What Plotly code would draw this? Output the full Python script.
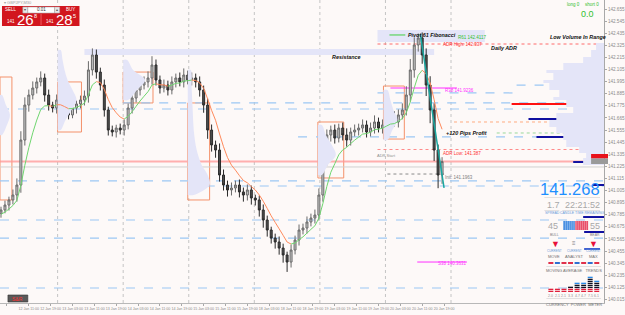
import plotly.graph_objects as go

# ---------------- data ----------------
closes = [140.828, 140.873, 140.919, 140.964, 141.055, 141.464, 141.782, 141.873, 141.937, 141.992,
          142.028, 141.873, 141.782, 141.755, 141.828, 141.782, 141.719, 141.692, 141.755, 141.792,
          141.828, 141.864, 142.101, 142.237, 142.082, 141.964, 141.737, 141.555, 141.537, 141.573,
          141.555, 141.601, 141.755, 141.846, 141.919, 141.964, 141.992, 142.028, 142.146, 142.010,
          141.937, 141.964, 141.919, 141.992, 142.028, 141.992, 142.055, 142.010, 142.028, 141.992,
          141.919, 141.782, 141.555, 141.419, 141.373, 141.146, 141.055, 141.010, 141.028, 141.055,
          140.992, 140.964, 141.010, 140.937, 140.919, 140.828, 140.737, 140.646, 140.573, 140.537,
          140.482, 140.419, 140.355, 140.464, 140.555, 140.646, 140.664, 140.719, 140.755, 140.782,
          140.964, 141.282, 141.510, 141.555, 141.482, 141.573, 141.510, 141.464, 141.537, 141.555,
          141.573, 141.601, 141.537, 141.573, 141.628, 141.573, 141.601, 141.646, 141.664, 141.628,
          141.692, 141.737, 141.873, 142.101, 142.328, 142.392, 142.237, 141.964, 141.737, 141.373,
          141.146, 141.268]
wick_up = [0.03, 0.04, 0.03, 0.05, 0.06, 0.08, 0.07, 0.05, 0.06, 0.04,
           0.06, 0.04, 0.05, 0.03, 0.05, 0.04, 0.03, 0.04, 0.05, 0.03,
           0.04, 0.05, 0.08, 0.06, 0.05, 0.04, 0.05, 0.03, 0.04, 0.03,
           0.04, 0.05, 0.04, 0.06, 0.05, 0.04, 0.05, 0.06, 0.08, 0.05,
           0.04, 0.05, 0.04, 0.05, 0.04, 0.05, 0.06, 0.04, 0.05, 0.04,
           0.05, 0.04, 0.06, 0.05, 0.04, 0.06, 0.05, 0.04, 0.05, 0.04,
           0.05, 0.04, 0.05, 0.04, 0.03, 0.04, 0.05, 0.04, 0.03, 0.04,
           0.05, 0.04, 0.03, 0.05, 0.04, 0.05, 0.04, 0.05, 0.04, 0.05,
           0.06, 0.08, 0.05, 0.04, 0.05, 0.04, 0.05, 0.06, 0.04, 0.05,
           0.04, 0.05, 0.04, 0.05, 0.06, 0.04, 0.05, 0.04, 0.05, 0.06,
           0.05, 0.06, 0.08, 0.10, 0.07, 0.04, 0.05, 0.06, 0.08, 0.06,
           0.05, 0.04]
wick_dn = [0.04, 0.03, 0.05, 0.04, 0.06, 0.07, 0.05, 0.06, 0.04, 0.05,
           0.04, 0.06, 0.05, 0.04, 0.05, 0.06, 0.05, 0.04, 0.03, 0.05,
           0.04, 0.05, 0.06, 0.05, 0.06, 0.05, 0.06, 0.05, 0.04, 0.05,
           0.04, 0.05, 0.04, 0.05, 0.04, 0.05, 0.04, 0.05, 0.06, 0.05,
           0.05, 0.04, 0.05, 0.04, 0.05, 0.04, 0.05, 0.04, 0.05, 0.05,
           0.06, 0.07, 0.08, 0.06, 0.07, 0.06, 0.05, 0.06, 0.05, 0.04,
           0.05, 0.06, 0.05, 0.06, 0.05, 0.06, 0.07, 0.06, 0.05, 0.06,
           0.06, 0.07, 0.09, 0.05, 0.04, 0.05, 0.04, 0.05, 0.04, 0.05,
           0.05, 0.06, 0.05, 0.06, 0.05, 0.04, 0.05, 0.06, 0.05, 0.04,
           0.05, 0.04, 0.05, 0.04, 0.05, 0.04, 0.05, 0.04, 0.05, 0.04,
           0.05, 0.04, 0.05, 0.06, 0.07, 0.06, 0.08, 0.10, 0.12, 0.10,
           0.12, 0.08]
time_labels = ["11 Jan 2021", "12 Jan 11:00", "12 Jan 19:00", "13 Jan 03:00", "13 Jan 11:00",
               "13 Jan 19:00", "14 Jan 03:00", "14 Jan 11:00", "14 Jan 19:00", "15 Jan 03:00",
               "15 Jan 11:00", "15 Jan 19:00", "18 Jan 03:00", "18 Jan 11:00", "18 Jan 19:00",
               "19 Jan 03:00", "19 Jan 11:00", "19 Jan 19:00", "20 Jan 03:00", "20 Jan 11:00",
               "20 Jan 19:00"]

blue_dashed_levels = [141.964, 141.892, 141.801, 141.746, 141.492, 141.092, 141.046, 140.737, 140.573, 140.119]
dark_blue_levels = [141.655, 141.492, 141.264, 141.055, 140.764, 140.628]
red_level = 141.792
adr_high = 142.337
adr_low = 141.378
fib_r61 = 142.419
fib_r38 = 141.937
fib_s38 = 140.355
init_level = 141.155
peach_level = 141.628
green_dot_level = 141.528
bid = 141.268
gray_level = 141.219
trend_line = [142.43, 141.03]
resistance_band = [142.292, 142.237]
pivot_band = [142.464, 142.355]

profile_right_levels = [142.346, 142.282, 142.219, 142.164, 142.101, 142.073, 142.010, 141.982, 141.919,
                        141.855, 141.828, 141.764, 141.710, 141.646, 141.582, 141.528, 141.464, 141.401,
                        141.346, 141.301, 141.237, 141.164]
profile_right_volume = [0, 8, 13, 21, 41, 58, 51, 61, 55, 45, 51, 38, 31, 48, 55, 48, 41, 38, 25, 18, 21, 0]

left_profile_levels = [
    [141.873, 141.782, 141.692, 141.601, 141.510],
    [142.282, 142.192, 142.101, 142.010, 141.919, 141.828, 141.737, 141.646, 141.555],
    [142.192, 142.101, 142.010, 141.919, 141.828],
    [142.101, 141.919, 141.737, 141.555, 141.373, 141.237, 141.146, 141.055, 140.964],
    [141.601, 141.510, 141.419, 141.328, 141.237, 141.146],
    [141.919, 141.828, 141.737, 141.646, 141.555, 141.464],
]
left_profile_volume = [
    [2, 6, 10, 7, 2],
    [3, 5, 7, 10, 15, 19, 14, 8, 3],
    [4, 10, 22, 14, 5],
    [3, 4, 5, 6, 9, 14, 20, 22, 6],
    [4, 8, 14, 18, 10, 4],
    [4, 7, 10, 14, 9, 4],
]
session_box_prices = [(142.037, 140.919), (141.992, 141.537), (142.082, 141.801),
                      (141.801, 140.919), (141.628, 141.119), (141.955, 141.473)]
meter_values = [2.0, 2.1, 2.1, 3.3, 4.7, 4.7, 7.5, 6.1]
ma_trend_colors = ["#e0304a", "#3070d0", "#e0304a", "#e0304a", "#3070d0", "#e0304a", "#3070d0", "#e0304a"]

# ---------------- layout geometry ----------------
W, H = 625, 315
PW, PH = 608, 303
PX_PER_UNIT = 4.0
PX_PER_YEN = 110.0
y_top = 142.737
y_bot = y_top - PH / PX_PER_YEN
x_lo = -0.25
x_hi = x_lo + PW / PX_PER_UNIT


def U(px):
    return x_lo + px / PX_PER_UNIT


def P(px, py):
    return px / PW, 1 - py / PH


assert len(closes) == len(wick_up) == len(wick_dn)
n = len(closes)
idx = list(range(n))
opens = [closes[0] - 0.03] + closes[:-1]
highs = [max(o, c) + u for o, c, u in zip(opens, closes, wick_up)]
lows = [min(o, c) - d for o, c, d in zip(opens, closes, wick_dn)]

# EMA indicator
alpha = 2 / (7 + 1)
ema = [closes[0] - 0.04]
for c in closes[1:]:
    ema.append(ema[-1] + alpha * (c - ema[-1]))
gx, gy, ox, oy = [], [], [], []
for i in range(1, n):
    if ema[i] >= ema[i - 1]:
        gx += [i - 1, i, None]; gy += [ema[i - 1], ema[i], None]
    else:
        ox += [i - 1, i, None]; oy += [ema[i - 1], ema[i], None]

FONT = "Liberation Sans, Arial, sans-serif"
LAV = "#e4e5f8"

fig = go.Figure()

# volume profiles (left, inside sessions)
left_bases_px = [0, 58, 124, 189, 320, 386]
for base_px, lv, vol in zip(left_bases_px, left_profile_levels, left_profile_volume):
    b = U(base_px)
    xs = [b] + [b + v / PX_PER_UNIT for v in vol] + [b]
    ys = [lv[0]] + lv + [lv[-1]]
    fig.add_trace(go.Scatter(x=xs, y=ys, fill="toself", fillcolor=LAV, mode="lines",
                             line=dict(width=0, color=LAV, shape="spline"), hoverinfo="skip", showlegend=False))

# right volume profile
fig.add_trace(go.Scatter(x=profile_right_volume, y=profile_right_levels, xaxis="x2", fill="tozerox",
                         fillcolor=LAV, mode="lines", line=dict(width=0, color=LAV, shape="hv"),
                         hoverinfo="skip", showlegend=False))

# candles
fig.add_trace(go.Candlestick(x=idx, open=opens, high=highs, low=lows, close=closes,
                             increasing=dict(line=dict(color="#6a6a6a", width=1), fillcolor="#c8c8c8"),
                             decreasing=dict(line=dict(color="#2a2a2a", width=1), fillcolor="#505050"),
                             whiskerwidth=0, showlegend=False, hoverinfo="skip"))

# moving average colored by slope
fig.add_trace(go.Scatter(x=gx, y=gy, mode="lines", line=dict(color="#6fd66f", width=1), showlegend=False, hoverinfo="skip"))
fig.add_trace(go.Scatter(x=ox, y=oy, mode="lines", line=dict(color="#ff8a5c", width=1), showlegend=False, hoverinfo="skip"))

# trend line after the peak
peak_i = max(range(n), key=lambda i: highs[i])
fig.add_trace(go.Scatter(x=[peak_i - 0.5, n - 0.5], y=trend_line, mode="lines",
                         line=dict(color="#1aa7a0", width=1.5), showlegend=False, hoverinfo="skip"))

shapes = []


def hline(price, px0, px1, color, width=1, dash="solid", layer="below"):
    shapes.append(dict(type="line", xref="x", yref="y", x0=U(px0), x1=U(px1), y0=price, y1=price,
                       line=dict(color=color, width=width, dash=dash), layer=layer))


def rect_px(x0, y0, x1, y1, fill, line=None, lw=0.6):
    a0, b0 = P(x0, y0)
    a1, b1 = P(x1, y1)
    shapes.append(dict(type="rect", xref="paper", yref="paper", x0=a0, x1=a1, y0=b1, y1=b0,
                       fillcolor=fill, line=dict(color=line or fill, width=lw if line else 0), layer="above"))


# bands
shapes.append(dict(type="rect", xref="x", yref="y", x0=U(85), x1=U(437), y0=resistance_band[1], y1=resistance_band[0],
                   fillcolor=LAV, line=dict(width=0), layer="below"))
shapes.append(dict(type="rect", xref="x", yref="y", x0=U(380), x1=U(488), y0=pivot_band[1], y1=pivot_band[0],
                   fillcolor=LAV, line=dict(width=0), layer="below"))

# day separators
for k in range(7):
    xs = U(58 + 66 * k)
    shapes.append(dict(type="line", xref="x", yref="paper", x0=xs, x1=xs, y0=0, y1=1,
                       line=dict(color="#c4c4c4", width=1, dash="dot"), layer="below"))

# session boxes
box_px = [(0, 12), (58, 82), (124, 154), (189, 211), (320, 346), (386, 407)]
for (a, b), (ptop, pbot) in zip(box_px, session_box_prices):
    shapes.append(dict(type="rect", xref="x", yref="y", x0=U(a), x1=U(b), y0=pbot, y1=ptop,
                       line=dict(color="#f4916a", width=1), fillcolor="rgba(0,0,0,0)", layer="below"))

# levels
bd_start = [520, 380, 124, 0, 300, 0, 189, 0, 0, 0]
bd_end = [608, 520, 608, 608, 608, 608, 608, 608, 608, 608]
for p, a, b in zip(blue_dashed_levels, bd_start, bd_end):
    hline(p, a, b, "#9cc8f4", 1.2, "dash")
hline(bid, 0, 608, "rgba(255,150,150,0.75)", 2)
hline(gray_level, 0, 608, "#d0d0d0", 1)
for p, a in zip(dark_blue_levels, [532, 540, 577, 597, 587, 588]):
    hline(p, a, 608, "#1010a0", 2)
hline(red_level, 515, 608, "#ff1010", 2)
hline(adr_high, 380, 608, "#ff6a6a", 1, "dot")
hline(adr_low, 380, 608, "#ff8a8a", 1, "dot")
hline(peach_level, 457, 608, "#ffab80", 1, "dot")
hline(green_dot_level, 500, 608, "#9ad89a", 1, "dot")
hline(init_level, 390, 447, "#8a8a8a", 1, "dot")
hline(fib_r38, 393, 460, "#ff30ff", 1)
hline(fib_s38, 420, 470, "#ff30ff", 1)
hline(fib_r61, 392, 408, "#40d040", 1)

ann = []


def txt(px, py, s, size, color, xanchor="center", bold=False, italic=False, bg=None):
    if italic:
        s = "<i>" + s + "</i>"
    if bold:
        s = "<b>" + s + "</b>"
    x, y = P(px, py)
    d = dict(x=x, y=y, xref="paper", yref="paper", text=s, showarrow=False, xanchor=xanchor, yanchor="middle",
             font=dict(size=size, color=color, family=FONT), borderpad=0)
    if bg:
        d["bgcolor"] = bg
    ann.append(d)


# chart labels
txt(410, 35, "Pivot 61 Fibonacci", 5.4, "#111111", "left", True, True)
txt(460, 38, "R61 142.4117", 4.5, "#30c030", "left")
txt(445, 44.5, "ADR High: 142.337", 4.5, "#ff3030", "left")
txt(553, 37, "Low Volume In Range", 5.4, "#111111", "left", True, True)
txt(493, 48, "Daily ADR", 5.4, "#111111", "left", True, True)
txt(333, 57, "Resistance", 5.4, "#111111", "left", True, True)
txt(447, 90, "R38 141.9236", 4.5, "#ff30ff", "left")
txt(448, 133, "+120 Pips Profit", 5.4, "#111111", "left", True, True)
txt(445, 153, "ADR Low: 141.387", 4.5, "#ff3030", "left")
txt(378, 155, "ADR Start", 4, "#909090", "left")
txt(447, 177, "Init: 141.1963", 4.5, "#808080", "left")
txt(440, 263, "S38 140.3631", 4.5, "#ff30ff", "left")

# top-left trade panel
txt(3, 2.5, "▾ GBPJPY,M30", 4, "#a0a0a0", "left")
rect_px(2, 6, 80, 26, "#d2161e")
rect_px(23, 7, 28, 13, "#e8e8e8", "#b0b0b0")
rect_px(28, 7, 55, 13, "#ffffff", "#b0b0b0")
rect_px(55, 7, 60, 13, "#e8e8e8", "#b0b0b0")
rect_px(41, 14, 41.6, 25, "#ff8a8a")
txt(11, 10, "SELL", 4.5, "#ffffff")
txt(71, 10, "BUY", 4.5, "#ffffff")
txt(25.5, 10, "▾", 4, "#555555")
txt(57.5, 10, "▴", 4, "#555555")
txt(41.5, 10, "0.01", 4.5, "#333333")
txt(6, 21.5, "141", 4.5, "#ffffff", "left")
txt(16, 19.5, "26", 15, "#ffffff", "left")
txt(33, 15.5, "8", 5.5, "#ffffff", "left")
txt(45, 21.5, "141", 4.5, "#ffffff", "left")
txt(55, 19.5, "28", 15, "#ffffff", "left")
txt(72, 15.5, "5", 5.5, "#ffffff", "left")

# top-right counters
txt(577, 5, "long 0", 4.5, "#30c030")
txt(596, 5, "short 0", 4.5, "#30c030")
txt(591, 14, "0.0", 9, "#30c030")

# S&R button
rect_px(8, 295, 28, 302, "#5a5a5a", "#333333")
txt(18, 298.5, "S&R", 5, "#ff3030")

# bid label on price axis
rect_px(595, 154, 612, 158.5, "#e8101a")
rect_px(595, 158.5, 612, 164, "#9a9a9a")

# bottom-right info panel
txt(574, 188.5, "141.268", 16.5, "#1e8fff")
rect_px(548, 197.5, 604, 198.1, "#c8c8c8")
txt(557, 205, "1.7", 9, "#a8a8a8")
txt(586, 205, "22:21:52", 9, "#a8a8a8")
rect_px(548, 210, 563, 210.5, "#c8c8c8")
rect_px(566, 210, 604, 210.5, "#c8c8c8")
txt(556, 213, "SPREAD", 3.5, "#6a9ad8")
txt(586, 213, "CANDLE TIME REMAINING", 3.5, "#6a9ad8")
txt(557, 226, "45", 9, "#a8a8a8")
txt(599, 226, "55", 9, "#a8a8a8")
rect_px(567, 221, 579, 230, "#4a90e2")
rect_px(579, 221, 592, 230, "#e8506a")
for k in range(1, 13):
    xk = 567 + 25 * k / 13
    rect_px(xk, 221, xk + 0.5, 230, "rgba(255,255,255,0.55)")
txt(558, 235, "BULL", 3.5, "#808080")
txt(599, 235, "BEAR", 3.5, "#808080")
txt(559, 244, "▼", 9, "#e8103a")
txt(597, 244, "▼", 9, "#e8103a")
txt(578, 243, "≡", 6, "#808080")
rect_px(588, 248, 604, 250, "#4060d0")
txt(558, 251, "CURRENT", 3, "#6a9ad8")
txt(578, 251, "CURRENT", 3, "#6a9ad8")
txt(597, 251, "CURRENT", 3, "#6a9ad8")
txt(558, 256, "MOVE", 4, "#707070")
txt(578, 256, "ANALYST", 4, "#707070")
txt(597, 256, "MAX", 4, "#707070")
for k, c in enumerate(ma_trend_colors):
    x0 = 552 + 6.6 * k
    rect_px(x0, 262, x0 + 5, 264, c)
rect_px(550, 266, 605, 266.5, "#c8c8c8")
txt(578, 270, "MOVING AVERAGE   TRENDS", 4, "#707070")
for k, v in enumerate(meter_values):
    x0 = 552 + 6.6 * k
    nseg = int(round(v))
    for s in range(nseg):
        yb = 292 - s * 2.0
        if s < 2:
            col = "#e0203c"
        elif s == nseg - 1 and nseg > 3:
            col = "#2a8ae8"
        else:
            col = "#111122"
        rect_px(x0, yb - 1.3, x0 + 5, yb, col)
    txt(x0 + 2.5, 296, f"{v:.1f}", 3.5, "#909090")
rect_px(550, 298.5, 605, 299, "#c8c8c8")
txt(578, 304, "CURRENCY  POWER  METER", 4, "#707070")

tick_px = [7 + 22 * k for k in range(len(time_labels))]

fig.update_layout(
    width=W, height=H, margin=dict(l=0, r=W - PW, t=0, b=H - PH),
    paper_bgcolor="#fdf9f8", plot_bgcolor="#fdf9f8",
    shapes=shapes, annotations=ann, showlegend=False,
    xaxis=dict(range=[x_lo, x_hi], rangeslider=dict(visible=False), showgrid=False, zeroline=False,
               tickvals=[U(p) for p in tick_px], ticktext=time_labels, tickangle=0,
               tickfont=dict(size=3.6, color="#8a8a8a", family=FONT),
               showline=True, linecolor="#b8b8b8", linewidth=1, ticks="outside", ticklen=2, tickcolor="#a8a8a8"),
    xaxis2=dict(overlaying="x", range=[PW, 0], visible=False, anchor="y"),
    yaxis=dict(range=[y_bot, y_top], side="right", showgrid=False, zeroline=False, tick0=142.655, dtick=0.11,
               tickformat=".3f", tickfont=dict(size=4.6, color="#8a8a8a", family=FONT), showline=True,
               linecolor="#a8a8a8", linewidth=1, ticks="outside", ticklen=2, tickcolor="#a8a8a8"),
)

fig.write_html("out.html")
